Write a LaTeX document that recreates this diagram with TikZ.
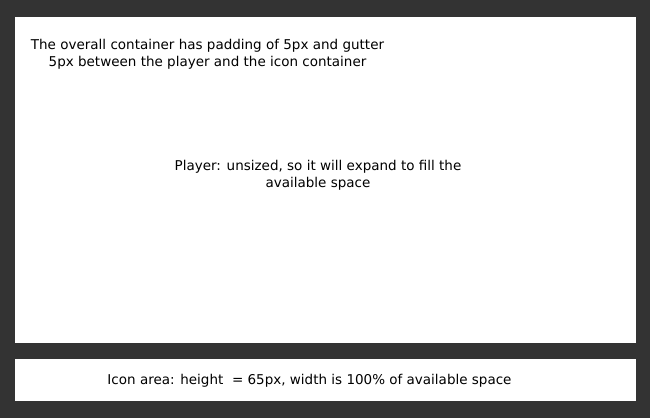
\documentclass[tikz,border=0pt]{standalone}
\usepackage{fontspec}
\setmainfont{DejaVu Sans}
\begin{document}
\begin{tikzpicture}[x=1pt,y=-1pt,
  panel/.style={fill=white,draw=none},
  lbl/.style={font=\fontsize{13.5}{17.5}\selectfont,text=black,align=center,inner sep=0pt}]
\fill[fill={rgb,255:red,51;green,51;blue,51}] (0,0) rectangle (650,418);
\useasboundingbox (0,0) rectangle (650,418);
\path[panel] (15,17) rectangle (636,342.5);
\path[panel] (15,359) rectangle (636,401);
\node[lbl] (note) at (207.5,54.5) {The overall container has padding of 5px and gutter\\5px between the player and the icon container};
\node[lbl] (player) at (318,175.5) {Player: unsized, so it will expand to fill the\\available space};
\node[lbl] (icon) at (309.5,380.5) {Icon area: height\ \ = 65px, width is 100\% of available space};
\end{tikzpicture}
\end{document}
